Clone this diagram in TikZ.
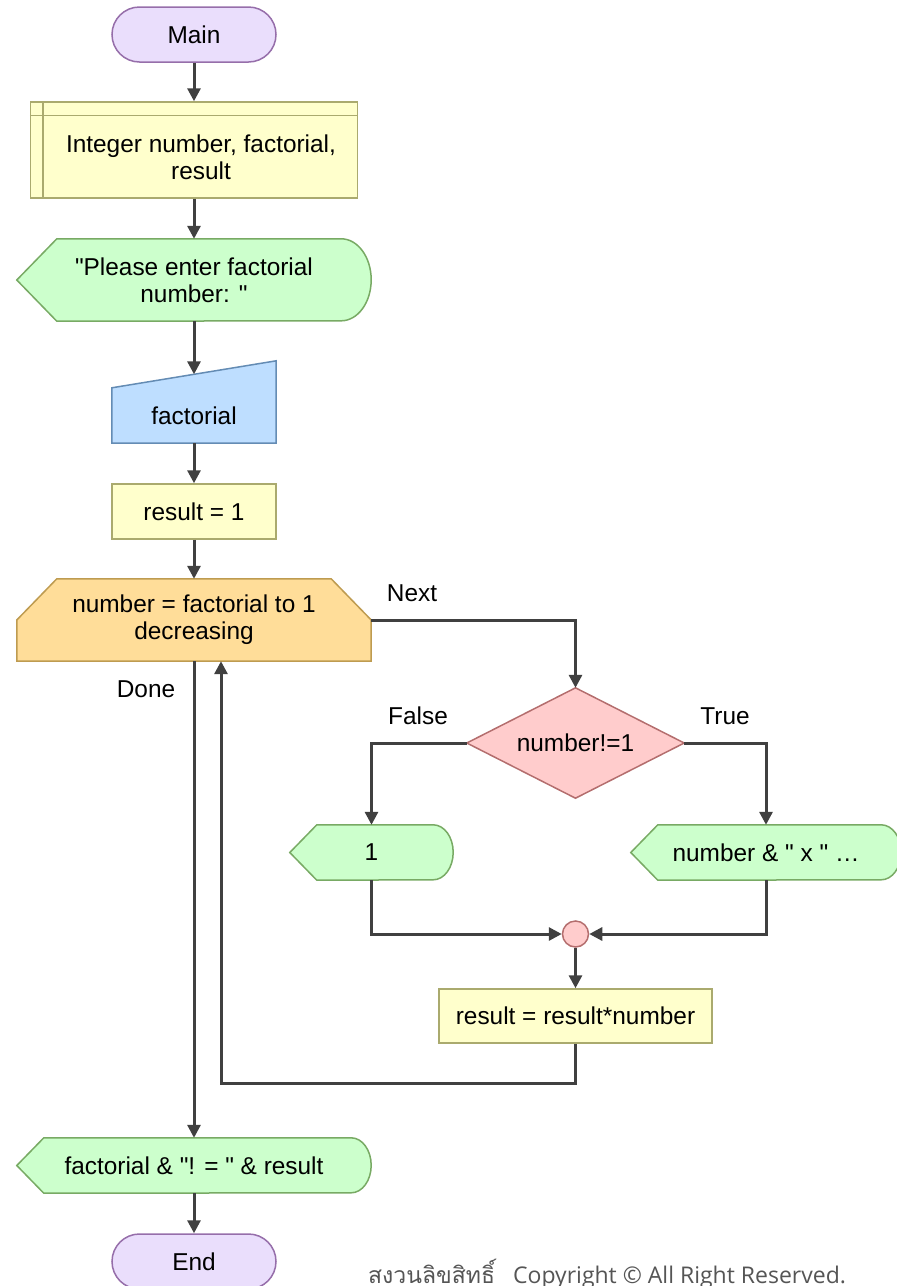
\documentclass[tikz,border=0pt]{standalone}
\usepackage{fontspec}
\setmainfont{Liberation Sans}[Ligatures=TeXOff]
\newfontfamily\thaifont[Script=Thai]{Loma}
\newfontfamily\notefont{Open Sans}
\usetikzlibrary{arrows.meta,calc,backgrounds}

\definecolor{linec}{RGB}{64,64,64}
\definecolor{termf}{RGB}{234,222,252}
\definecolor{termd}{RGB}{150,110,170}
\definecolor{procf}{RGB}{255,255,204}
\definecolor{procd}{RGB}{170,170,110}
\definecolor{dispf}{RGB}{204,255,204}
\definecolor{dispd}{RGB}{120,170,100}
\definecolor{inpf}{RGB}{190,222,255}
\definecolor{inpd}{RGB}{100,140,180}
\definecolor{loopf}{RGB}{255,221,153}
\definecolor{loopd}{RGB}{190,155,80}
\definecolor{decf}{RGB}{255,204,204}
\definecolor{decd}{RGB}{180,110,110}
\definecolor{notegray}{RGB}{85,85,85}

% straight double quote
\newcommand{\dq}{\symbol{34}}

\tikzset{
  every node/.style={inner sep=0pt, align=center, font=\fontsize{24.4}{27}\selectfont},
  term/.style={draw=termd, fill=termf, line width=1.5pt, rounded corners=27.5pt,
               minimum width=164pt, minimum height=55pt},
  procbox/.style={draw=procd, fill=procf, line width=1.5pt},
  dispst/.style={draw=dispd, fill=dispf, line width=1.5pt},
  inpst/.style={draw=inpd, fill=inpf, line width=1.5pt},
  loopst/.style={draw=loopd, fill=loopf, line width=1.5pt},
  decst/.style={draw=decd, fill=decf, line width=1.5pt},
  arr/.style={draw=linec, line width=3pt, -{Triangle[length=13pt,width=13pt]}},
  flowlbl/.style={font=\fontsize{24.4}{27}\selectfont}
}

% display symbol: pointed left end, rounded right end
\newcommand{\dispsym}[4]{%
  \filldraw[dispst] (#1.west) -- ([xshift=#2]#1.north west)
    -- ([xshift=-#3]#1.north east)
    arc[start angle=90, end angle=-90, x radius=#3, y radius=#4]
    -- ([xshift=#2]#1.south west) -- cycle;}

\begin{document}
\begin{tikzpicture}[x=1pt,y=-1pt]
\useasboundingbox (0,0) rectangle (897,1286);

% main column
\node[term] (main) at (194,34.5) {Main};
\node[procbox, minimum width=327pt, minimum height=96pt] (decl) at (194,150) {};
\draw[procd, line width=1.5pt]
  ([xshift=13pt]decl.north west) -- ([xshift=13pt]decl.south west)
  ([yshift=-14pt]decl.north west) -- ([yshift=-14pt]decl.north east);
\node (decltxt) at (201,157) {Integer number, factorial,\\result};

\node[minimum width=354pt, minimum height=82pt] (prompt) at (194,280)
  {\dq Please enter factorial\\number: \dq};
\node[minimum width=164pt, minimum height=55pt] (inp) at (194,415.5) {factorial};
\node[procbox, minimum width=164pt, minimum height=55pt] (res1) at (194,511.5) {result = 1};
\node[minimum width=354pt, minimum height=82pt] (loop) at (194,620)
  {number = factorial to 1\\decreasing};

% loop body
\node[minimum width=217pt, minimum height=110pt] (dia) at (575.5,743) {number!=1};
\node[minimum width=163pt, minimum height=55pt] (one) at (371.5,852.5) {1};
\node[minimum width=270pt, minimum height=55pt] (num) at (766,852.5) {number \& \dq{} x \dq{} …};
\node[circle, draw=decd, fill=decf, line width=1.5pt, minimum size=26pt] (mg) at (575.5,934) {};
\node[procbox, minimum width=273pt, minimum height=54pt] (mult) at (575.5,1016)
  {result = result*number};

% after the loop
\node[minimum width=354pt, minimum height=55pt] (outp) at (194,1165.5)
  {factorial \& \dq! = \dq{} \& result};
\node[term] (endn) at (194,1261.5) {End};

% symbol outlines behind the texts
\begin{scope}[on background layer]
  \dispsym{prompt}{40pt}{30pt}{41pt}
  \dispsym{one}{27pt}{20pt}{27.5pt}
  \dispsym{num}{27pt}{20pt}{27.5pt}
  \dispsym{outp}{27pt}{20pt}{27.5pt}
  \filldraw[inpst] (inp.south west) -- (inp.south east)
    -- ([yshift=27pt]inp.north east) -- (inp.north west) -- cycle;
  \filldraw[loopst] (loop.south west) -- (loop.south east) -- (loop.east)
    -- ([xshift=-40pt]loop.north east) -- ([xshift=40pt]loop.north west)
    -- (loop.west) -- cycle;
  \filldraw[decst] (dia.north) -- (dia.east) -- (dia.south) -- (dia.west) -- cycle;
\end{scope}

% connectors
\draw[arr] (main.south) -- (decl.north);
\draw[arr] (decl.south) -- (prompt.north);
\draw[arr] (prompt.south) -- ([yshift=13.5pt]inp.north);
\draw[arr] (inp.south) -- (res1.north);
\draw[arr] (res1.south) -- (loop.north);
\draw[arr] (loop.east) -| (dia.north);
\draw[arr] (dia.west) -| (one.north);
\draw[arr] (dia.east) -| (num.north);
\draw[arr] (one.south) |- (mg.west);
\draw[arr] (num.south) |- (mg.east);
\draw[arr] (mg.south) -- (mult.north);
\draw[arr] (mult.south) -- ++(0,40) -| ([xshift=27pt]loop.south);
\draw[arr] (loop.south) -- (outp.north);
\draw[arr] (outp.south) -- (endn.north);

% branch labels
\node[flowlbl] (lnext) at (412,593) {Next};
\node[flowlbl] (ldone) at (146,689) {Done};
\node[flowlbl] (lfalse) at (418,716) {False};
\node[flowlbl] (ltrue) at (725,716) {True};

% footer
\node[anchor=base west, font=\notefont\fontsize{23}{26}\selectfont, text=notegray]
  (copy) at (368,1283) {{\thaifont สงวนลิขสิทธิ์}\hspace{18pt}Copyright © All Right Reserved.};
\end{tikzpicture}
\end{document}
